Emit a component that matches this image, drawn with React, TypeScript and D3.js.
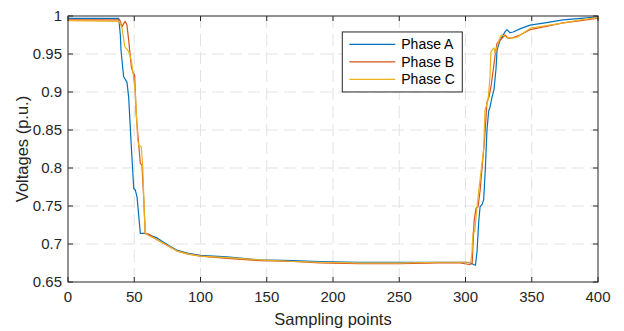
import React from 'react';
import * as d3 from 'd3';

// sample index, voltage (p.u.)
const phaseA: [number, number][] = [
  [0, 0.997], [38.3, 0.997], [39.5, 0.975], [40, 0.955], [42, 0.92], [44.5, 0.913],
  [45.8, 0.893], [47.5, 0.837], [49.6, 0.773], [50.8, 0.771], [52.1, 0.762], [54.6, 0.714],
  [58.3, 0.714], [60.9, 0.712], [67.2, 0.708], [76, 0.698], [82, 0.692], [90, 0.688],
  [100, 0.685], [120, 0.683], [145, 0.679], [170, 0.678], [190, 0.677], [220, 0.676],
  [250, 0.676], [280, 0.676], [300, 0.676], [304, 0.675], [306, 0.673], [307.5, 0.672],
  [308.7, 0.69], [310, 0.73], [311, 0.749], [312.5, 0.752], [313.7, 0.758], [315, 0.8],
  [316.2, 0.85], [317.5, 0.875], [318.5, 0.88], [320, 0.893], [321.5, 0.903], [323, 0.93],
  [323.8, 0.955], [326, 0.968], [329.8, 0.979], [331.3, 0.982], [333.6, 0.978], [336, 0.979],
  [341, 0.983], [348.7, 0.988], [360, 0.991], [373.6, 0.995], [387, 0.997], [400, 0.999],
];

const phaseB: [number, number][] = [
  [0, 0.995], [39, 0.995], [40.8, 0.986], [42, 0.99], [43.2, 0.993], [44.5, 0.988],
  [45.8, 0.968], [47.8, 0.933], [48.8, 0.927], [50.3, 0.922], [51.5, 0.87], [53.4, 0.83],
  [54.6, 0.806], [55.8, 0.804], [57.1, 0.762], [58.3, 0.714], [60.9, 0.713], [66, 0.707],
  [70, 0.703], [76, 0.697], [82, 0.691], [90, 0.687], [100, 0.684], [120, 0.681],
  [145, 0.678], [170, 0.677], [190, 0.675], [220, 0.674], [250, 0.674], [280, 0.675],
  [296, 0.675], [303, 0.673], [305, 0.674], [305.7, 0.7], [306.5, 0.73], [307.9, 0.747],
  [309.5, 0.749], [311, 0.77], [313, 0.81], [314.5, 0.84], [316.2, 0.887], [317.7, 0.893],
  [319.5, 0.91], [321, 0.93], [322.5, 0.95], [323.8, 0.964], [326, 0.968], [329.8, 0.975],
  [332, 0.971], [335, 0.971], [341, 0.975], [348.7, 0.982], [360, 0.986], [373.6, 0.991],
  [387, 0.994], [400, 0.997],
];

const phaseC: [number, number][] = [
  [0, 0.994], [38.7, 0.993], [40.8, 0.984], [42.8, 0.96], [45.8, 0.953], [47.8, 0.942],
  [48.8, 0.929], [50.8, 0.899], [52.6, 0.837], [53.4, 0.83], [55.3, 0.828], [56.4, 0.802],
  [57.6, 0.741], [58.3, 0.714], [62.1, 0.71], [66, 0.707], [70, 0.703], [76, 0.697],
  [82, 0.691], [90, 0.687], [100, 0.684], [120, 0.682], [145, 0.679], [170, 0.677],
  [190, 0.676], [220, 0.675], [250, 0.675], [280, 0.676], [300, 0.676], [304, 0.676],
  [304.9, 0.69], [305.7, 0.716], [307, 0.716], [308.7, 0.749], [310, 0.77], [312, 0.8],
  [313.7, 0.824], [314.7, 0.876], [317, 0.889], [318.5, 0.92], [319.2, 0.953], [321.5, 0.958],
  [322.3, 0.951], [325.3, 0.968], [327, 0.975], [329, 0.974], [331, 0.972], [335, 0.971],
  [339, 0.972], [344, 0.978], [349, 0.984], [360, 0.987], [374, 0.991], [387, 0.995],
  [400, 0.998],
];

const seriesNames = ['Phase A', 'Phase B', 'Phase C'];
const seriesColors = ['#0072BD', '#D95319', '#EDB120'];
const xTicks = [0, 50, 100, 150, 200, 250, 300, 350, 400];
const yTicks = [0.65, 0.7, 0.75, 0.8, 0.85, 0.9, 0.95, 1];

const W = 624;
const H = 331;
const margin = { top: 16, right: 26, bottom: 49, left: 68 };
const font = '"Liberation Sans", Arial, Helvetica, sans-serif';

const App = () => {
  const iw = W - margin.left - margin.right;
  const ih = H - margin.top - margin.bottom;

  const x = d3.scaleLinear().domain([0, 400]).range([0, iw]);
  const y = d3.scaleLinear().domain([0.65, 1]).range([ih, 0]);

  const line = d3.line<[number, number]>()
    .x(d => x(d[0]))
    .y(d => y(d[1]));

  const allSeries = [phaseA, phaseB, phaseC];
  const tickLen = 5;
  const axisColor = '#262626';

  return (
    <svg width={W} height={H} style={{ position: 'absolute', left: 0, top: 0, background: '#fff' }} fontFamily={font}>
      <g transform={`translate(${margin.left},${margin.top})`}>
        {/* grid */}
        {xTicks.slice(1, -1).map(t => (
          <line key={'gx' + t} x1={x(t)} x2={x(t)} y1={0} y2={ih}
            stroke="#e2e2e2" strokeWidth={1} strokeDasharray="12,6" />
        ))}
        {yTicks.slice(1, -1).map(t => (
          <line key={'gy' + t} x1={0} x2={iw} y1={y(t)} y2={y(t)}
            stroke="#e2e2e2" strokeWidth={1} strokeDasharray="12,6" />
        ))}

        {/* curves */}
        {allSeries.map((s, i) => (
          <path key={i} d={line(s) || ''} fill="none" stroke={seriesColors[i]}
            strokeWidth={1.2} strokeLinejoin="round" />
        ))}

        {/* box */}
        <rect x={0} y={0} width={iw} height={ih} fill="none" stroke={axisColor} strokeWidth={1} />

        {/* ticks, inside on all sides */}
        {xTicks.map(t => (
          <g key={'tx' + t}>
            <line x1={x(t)} x2={x(t)} y1={ih} y2={ih - tickLen} stroke={axisColor} />
            <line x1={x(t)} x2={x(t)} y1={0} y2={tickLen} stroke={axisColor} />
            <text x={x(t)} y={ih + 20} textAnchor="middle" fontSize={15} fill={axisColor}>{t}</text>
          </g>
        ))}
        {yTicks.map(t => (
          <g key={'ty' + t}>
            <line x1={0} x2={tickLen} y1={y(t)} y2={y(t)} stroke={axisColor} />
            <line x1={iw} x2={iw - tickLen} y1={y(t)} y2={y(t)} stroke={axisColor} />
            <text x={-6} y={y(t)} dy="0.35em" textAnchor="end" fontSize={15} fill={axisColor}>{t}</text>
          </g>
        ))}

        {/* axis labels */}
        <text x={iw / 2} y={ih + 43} textAnchor="middle" fontSize={16.5} fill={axisColor}>Sampling points</text>
        <text transform={`translate(${-40},${ih / 2}) rotate(-90)`} textAnchor="middle" fontSize={16.5} fill={axisColor}>
          Voltages (p.u.)
        </text>

        {/* legend */}
        <g transform={`translate(${x(207)},${y(0.979)})`}>
          <rect x={0} y={0} width={120} height={60} fill="#fff" stroke={axisColor} strokeWidth={1} />
          {seriesNames.map((n, i) => (
            <g key={n} transform={`translate(0,${12.5 + i * 17.5})`}>
              <line x1={7} x2={53} y1={0} y2={0} stroke={seriesColors[i]} strokeWidth={1.2} />
              <text x={59} y={0} dy="0.35em" fontSize={14} fill="#000">{n}</text>
            </g>
          ))}
        </g>
      </g>
    </svg>
  );
};

export default App;
